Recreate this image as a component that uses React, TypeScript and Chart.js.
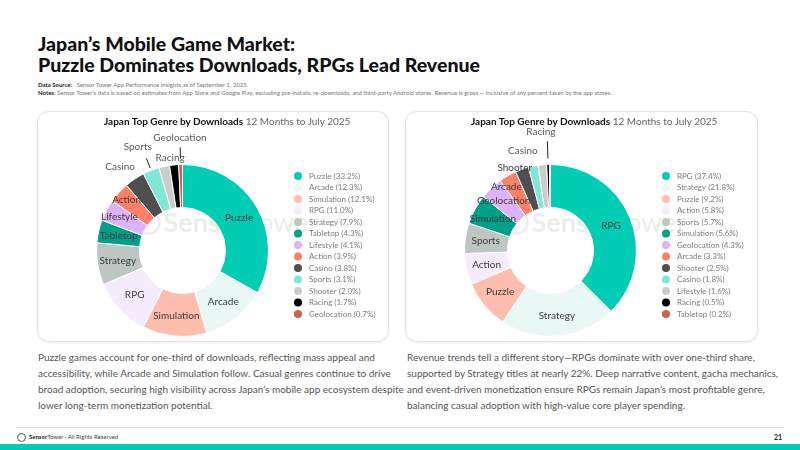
import { useEffect, useRef } from "react";
import { Chart, registerables } from "chart.js";

Chart.register(...registerables);

// Download share by genre (%), 12 months to July 2025
const downloadGenres = [
  "Puzzle", "Arcade", "Simulation", "RPG", "Strategy", "Tabletop", "Lifestyle",
  "Action", "Casino", "Sports", "Shooter", "Racing", "Geolocation",
];
const downloadShares = [33.2, 12.3, 12.1, 11.0, 7.9, 4.3, 4.1, 3.9, 3.8, 3.1, 2.0, 1.7, 0.7];

// Revenue share by genre (%), 12 months to July 2025
const revenueGenres = [
  "RPG", "Strategy", "Puzzle", "Action", "Sports", "Simulation", "Geolocation",
  "Arcade", "Shooter", "Casino", "Lifestyle", "Racing", "Tabletop",
];
const revenueShares = [37.4, 21.8, 9.2, 5.8, 5.7, 5.6, 4.3, 3.3, 2.5, 1.8, 1.6, 0.5, 0.2];

// Colours follow rank order within each chart
const rankPalette = [
  "#00CDB4", "#E9F8F4", "#FFBDAE", "#F4ECFC", "#BDC6C3", "#00A08B", "#DDB2F8",
  "#FF8067", "#4F4F4F", "#80E7D7", "#C9CDCC", "#000000", "#CA6152",
];

const FONT = "Lato, 'Noto Sans', sans-serif";

type LabelOpts = {
  hidden: string[];
  radius: Record<string, number>;
  turn: Record<string, number>;
  leaders: Record<string, [number, number]>;
  outside: string[];
};

// Genre names inside (or just outside) their slices, with short leader lines where needed
const sliceLabels = {
  id: "sliceLabels",
  afterDatasetsDraw(chart: any, _args: any, opts: LabelOpts) {
    const meta = chart.getDatasetMeta(0);
    const ctx = chart.ctx as CanvasRenderingContext2D;
    ctx.save();
    ctx.textAlign = "center";
    ctx.textBaseline = "middle";
    ctx.font = `10px ${FONT}`;
    meta.data.forEach((arc: any, i: number) => {
      const name = chart.data.labels[i] as string;
      if (opts.hidden.includes(name)) return;
      const p = arc.getProps(["x", "y", "startAngle", "endAngle", "innerRadius", "outerRadius"], true);
      const mid = (p.startAngle + p.endAngle) / 2;
      const f = opts.radius[name];
      const r = f ? p.outerRadius * f : (p.innerRadius + p.outerRadius) / 2 + 1;
      const lead = opts.leaders[name];
      if (lead) {
        ctx.strokeStyle = "#222";
        ctx.lineWidth = 1;
        ctx.beginPath();
        ctx.moveTo(p.x + Math.cos(mid) * p.outerRadius * lead[0], p.y + Math.sin(mid) * p.outerRadius * lead[0]);
        ctx.lineTo(p.x + Math.cos(mid) * p.outerRadius * lead[1], p.y + Math.sin(mid) * p.outerRadius * lead[1]);
        ctx.stroke();
      }
      const a = mid + ((opts.turn[name] || 0) * Math.PI) / 180;
      ctx.fillStyle = opts.outside.includes(name) ? "#5a5a5a" : "#3c3c3c";
      ctx.fillText(name, p.x + Math.cos(a) * r, p.y + Math.sin(a) * r);
    });
    ctx.restore();
  },
};

const sideLegend = {
  id: "sideLegend",
  afterDraw(chart: any, _args: any, opts: { x: number; y: number; step: number }) {
    const ctx = chart.ctx as CanvasRenderingContext2D;
    const labels = chart.data.labels as string[];
    const ds = chart.data.datasets[0];
    ctx.save();
    ctx.font = `8px ${FONT}`;
    ctx.textAlign = "left";
    ctx.textBaseline = "middle";
    labels.forEach((name, i) => {
      const y = opts.y + i * opts.step;
      ctx.fillStyle = ds.backgroundColor[i];
      ctx.beginPath();
      ctx.arc(opts.x, y, 4, 0, Math.PI * 2);
      ctx.fill();
      ctx.fillStyle = "#7d7d7d";
      ctx.fillText(`${name} (${ds.data[i].toFixed(1)}%)`, opts.x + 11, y);
    });
    ctx.restore();
  },
};

const watermark = {
  id: "watermark",
  beforeDatasetsDraw(chart: any) {
    const arc = chart.getDatasetMeta(0).data[0];
    if (!arc) return;
    const { x, y } = arc.getProps(["x", "y"], true);
    const ctx = chart.ctx as CanvasRenderingContext2D;
    ctx.save();
    ctx.strokeStyle = "#ececec";
    ctx.fillStyle = "#ececec";
    ctx.lineWidth = 2.5;
    ctx.beginPath();
    ctx.arc(x - 34, y - 28, 11, 0, Math.PI * 2);
    ctx.stroke();
    ctx.textBaseline = "alphabetic";
    ctx.font = `bold 27px ${FONT}`;
    ctx.fillText("Sensor", x - 19, y - 19);
    const w = ctx.measureText("Sensor").width;
    ctx.font = `27px ${FONT}`;
    ctx.fillText("Tower", x - 19 + w, y - 19);
    ctx.restore();
  },
};

function Donut({ labels, values, labelOpts }: { labels: string[]; values: number[]; labelOpts: LabelOpts }) {
  const ref = useRef<HTMLCanvasElement>(null);
  useEffect(() => {
    if (!ref.current) return;
    const chart = new Chart(ref.current, {
      type: "doughnut",
      data: {
        labels,
        datasets: [
          {
            data: values,
            backgroundColor: rankPalette.slice(0, values.length),
            borderColor: "#ffffff",
            borderWidth: 1,
            hoverOffset: 0,
          },
        ],
      },
      options: {
        animation: false,
        responsive: false,
        cutout: "50%",
        layout: { padding: { left: 58, right: 121, top: 52, bottom: 6 } },
        plugins: {
          legend: { display: false },
          tooltip: { enabled: false },
          sliceLabels: labelOpts,
          sideLegend: { x: 260, y: 64, step: 11.5 },
        } as any,
      },
      plugins: [watermark, sliceLabels, sideLegend],
    });
    return () => chart.destroy();
  }, []);
  return <canvas ref={ref} width={352} height={231} style={{ position: "absolute", left: 0, top: 0 }} />;
}

const card: React.CSSProperties = {
  position: "absolute",
  top: 111,
  height: 231,
  border: "1px solid #e4e4e4",
  borderRadius: 12,
  boxShadow: "0 1px 3px rgba(0,0,0,0.08)",
  boxSizing: "border-box",
  background: "#fff",
  overflow: "hidden",
};

const cardTitle: React.CSSProperties = {
  position: "absolute",
  top: 3,
  fontFamily: FONT,
  fontSize: 10,
  color: "#666",
  whiteSpace: "nowrap",
};

const para: React.CSSProperties = {
  position: "absolute",
  top: 349,
  fontFamily: FONT,
  fontSize: 10,
  lineHeight: "16px",
  color: "#555",
  whiteSpace: "nowrap",
};

export default function App() {
  return (
    <div style={{ position: "absolute", left: 0, top: 0, width: 800, height: 450, background: "#fff", overflow: "hidden", fontFamily: FONT }}>
      <div style={{ position: "absolute", left: 38, top: 33, fontSize: 19.5, fontWeight: 900, lineHeight: "21px", color: "#111", whiteSpace: "nowrap" }}>
        Japan’s Mobile Game Market:
        <br />
        Puzzle Dominates Downloads, RPGs Lead Revenue
      </div>
      <div style={{ position: "absolute", left: 38, top: 81, fontSize: 6, lineHeight: "8px", color: "#777", whiteSpace: "nowrap" }}>
        <b style={{ color: "#222" }}>Data Source:</b>&nbsp;&nbsp; Sensor Tower App Performance Insights as of September 1, 2025.
        <br />
        <b style={{ color: "#222" }}>Notes:</b> Sensor Tower’s data is based on estimates from App Store and Google Play, excluding pre-installs, re-downloads, and third-party Android stores. Revenue is gross — inclusive of any percent taken by the app stores.
      </div>

      <div style={{ ...card, left: 37, width: 352 }}>
        <Donut
          labels={downloadGenres}
          values={downloadShares}
          labelOpts={{
            hidden: ["Shooter"],
            radius: { Lifestyle: 0.83, Action: 0.88, Casino: 1.21, Sports: 1.31, Racing: 1.09, Geolocation: 1.31 },
            turn: { Casino: -3, Sports: -2, Racing: -2 },
            leaders: { Sports: [1.03, 1.15], Geolocation: [1.08, 1.2] },
            outside: ["Casino", "Sports", "Racing", "Geolocation"],
          }}
        />
        <div style={{ ...cardTitle, left: 66 }}>
          <b style={{ color: "#111" }}>Japan Top Genre by Downloads</b> 12 Months to July 2025
        </div>
      </div>

      <div style={{ ...card, left: 405, width: 353 }}>
        <Donut
          labels={revenueGenres}
          values={revenueShares}
          labelOpts={{
            hidden: ["Lifestyle", "Tabletop"],
            radius: { Geolocation: 0.79, Arcade: 0.9, Shooter: 1.05, Casino: 1.2, Racing: 1.38 },
            turn: { Arcade: -5, Shooter: -4, Casino: -4, Racing: -3 },
            leaders: { Racing: [1.07, 1.27] },
            outside: ["Casino", "Racing"],
          }}
        />
        <div style={{ ...cardTitle, left: 65 }}>
          <b style={{ color: "#111" }}>Japan Top Genre by Downloads</b> 12 Months to July 2025
        </div>
      </div>

      <div style={{ ...para, left: 38 }}>
        Puzzle games account for one-third of downloads, reflecting mass appeal and
        <br />
        accessibility, while Arcade and Simulation follow. Casual genres continue to drive
        <br />
        broad adoption, securing high visibility across Japan’s mobile app ecosystem despite
        <br />
        lower long-term monetization potential.
      </div>
      <div style={{ ...para, left: 407 }}>
        Revenue trends tell a different story—RPGs dominate with over one-third share,
        <br />
        supported by Strategy titles at nearly 22%. Deep narrative content, gacha mechanics,
        <br />
        and event-driven monetization ensure RPGs remain Japan’s most profitable genre,
        <br />
        balancing casual adoption with high-value core player spending.
      </div>

      <div style={{ position: "absolute", left: 16, top: 427, width: 768, height: 1, background: "#dedede" }} />
      <div style={{ position: "absolute", left: 17, top: 432, fontSize: 6, lineHeight: "10px", color: "#444", whiteSpace: "nowrap", display: "flex", alignItems: "center" }}>
        <span style={{ display: "inline-block", width: 7, height: 7, borderRadius: "50%", border: "1px solid #555", marginRight: 3 }} />
        <b style={{ color: "#222" }}>Sensor</b>Tower · All Rights Reserved
      </div>
      <div style={{ position: "absolute", left: 774, top: 432, fontSize: 7, fontWeight: 700, lineHeight: "10px", color: "#222" }}>21</div>
      <div style={{ position: "absolute", left: 0, top: 444, width: 800, height: 6, background: "#00CDB4" }} />
    </div>
  );
}
